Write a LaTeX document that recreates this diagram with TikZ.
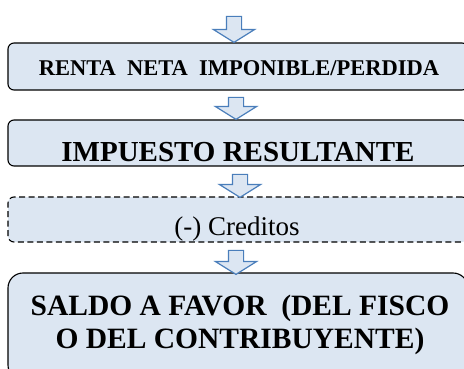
\documentclass[tikz,border=0pt]{standalone}
\usepackage{fontspec}
\setmainfont{Liberation Serif}
\usetikzlibrary{shapes.arrows}

\definecolor{boxfill}{HTML}{DCE6F2}
\definecolor{arrowline}{HTML}{4A7EBB}

\tikzset{
  stepbox/.style={draw=black, line width=1.1pt, fill=boxfill, rounded corners=6pt,
    inner sep=0pt, minimum width=460pt},
  downarrow/.style={single arrow, draw=arrowline, fill=boxfill, line width=1.2pt,
    rotate=-90, inner xsep=0pt, inner ysep=7pt, single arrow head extend=13pt,
    single arrow tip angle=116, minimum height=#1},
}

\begin{document}
\begin{tikzpicture}[x=1pt, y=1pt]
      % Fix the frame of the picture
      \clip (0,0) rectangle (464,-369);

      % Draw the boxes
      \node[stepbox, minimum height=47pt] (renta) at (238,-66.5) {};
      \node[stepbox, minimum height=46pt] (impuesto) at (238,-143) {};
      \node[stepbox, minimum height=45pt, dash pattern=on 6pt off 3.5pt] (creditos) at (238,-219.5) {};
      \node[stepbox, minimum height=107pt, rounded corners=15pt] (saldo) at (238,-326.5) {};

      % Texts of the boxes
      \node[anchor=base, font=\bfseries\fontsize{22.5}{26}\selectfont] (rentatext) at (239,-76)
        {RENTA\ \ NETA\ \ IMPONIBLE/PERDIDA};
      \node[anchor=base, font=\bfseries\fontsize{29}{33}\selectfont] (impuestotext) at (238,-161)
        {IMPUESTO RESULTANTE};
      \node[anchor=base, font=\fontsize{27}{31}\selectfont] (creditostext) at (237,-236)
        {(-) Creditos};
      \node[align=center, font=\bfseries\fontsize{29.5}{33}\selectfont] (saldotext) at (240,-325)
        {SALDO A FAVOR\ \ (DEL FISCO\\ O DEL CONTRIBUYENTE)};

      % Draw the block arrows
      \node[downarrow=26pt] (arrow0) at (234,-27) {};
      \node[downarrow=22pt] (arrow1) at (236,-106) {};
      \node[downarrow=23pt] (arrow2) at (240,-183.5) {};
      \node[downarrow=24pt] (arrow3) at (236,-260) {};
\end{tikzpicture}
\end{document}
